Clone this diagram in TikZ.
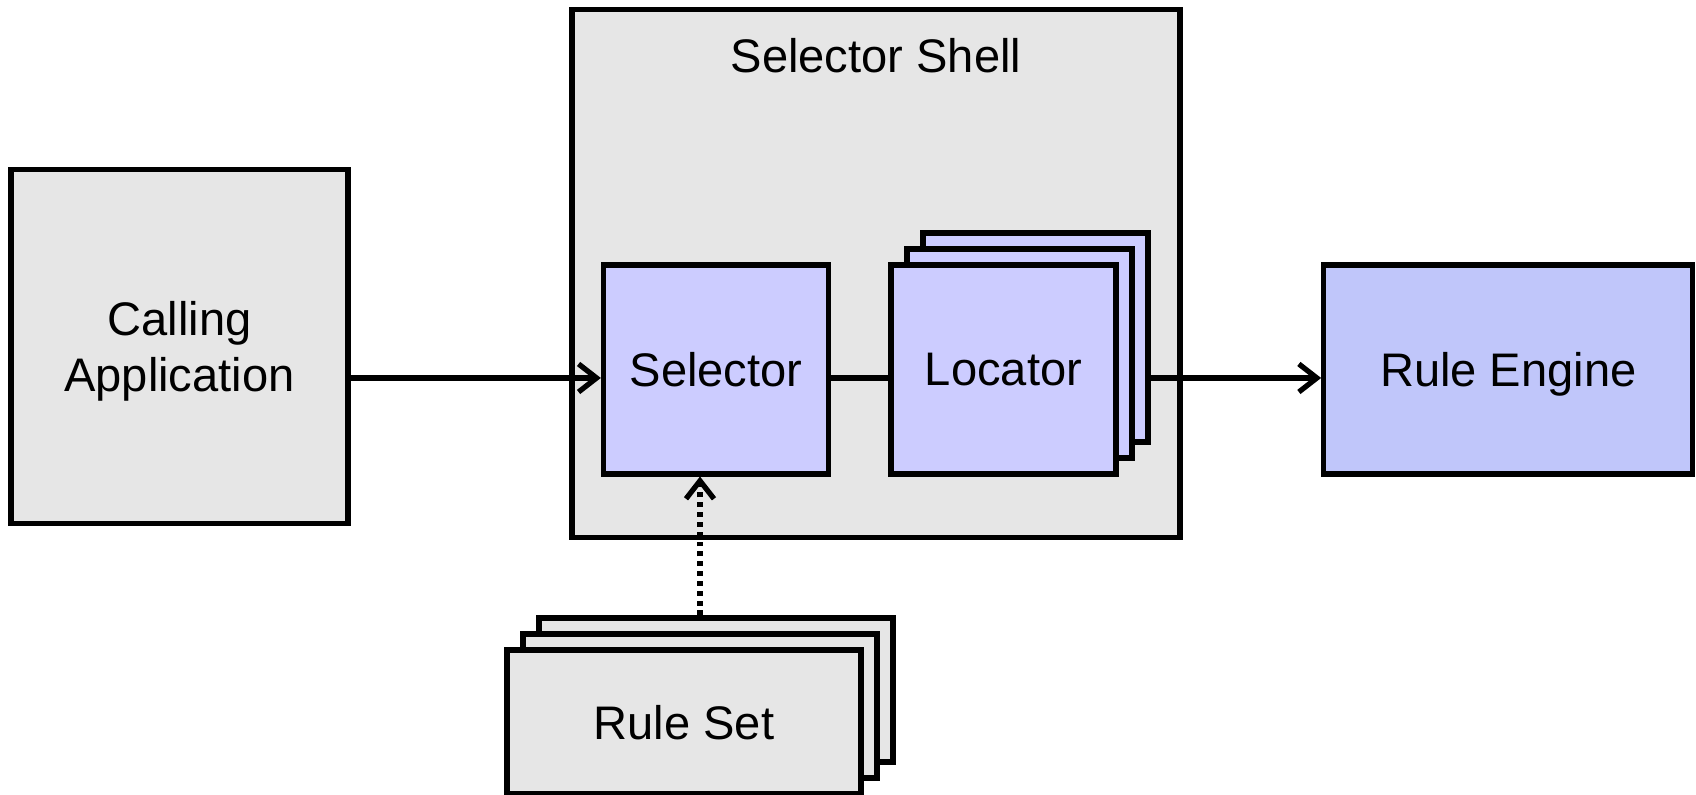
\documentclass[tikz,border=0pt]{standalone}
\usepackage{fontspec}
\setmainfont{Liberation Sans}
\usepackage{tikz}
\usetikzlibrary{arrows.meta,positioning}
\usepackage{xcolor}
\definecolor{paper}{HTML}{E6E6E6}
\definecolor{lilac}{HTML}{CCCCFF}
\definecolor{engine}{HTML}{C0C6FA}
\tikzset{graybox/.style={draw=black,fill=paper,line width=1.5pt,inner sep=0pt,text depth=0pt,align=center,font=\fontsize{13.4}{16}\selectfont}, lilacbox/.style={graybox,fill=lilac,minimum width=2.25cm,minimum height=2.09cm},rulebox/.style={graybox,minimum width=3.54cm,minimum height=1.44cm},flowline/.style={line width=1.5pt,black},feedline/.style={line width=1.5pt,black,dash pattern=on 1.4pt off 1.4pt}}

\begin{document}
\begin{tikzpicture}[>={Straight Barb[length=1.8mm,width=2.8mm]}]
\useasboundingbox (0,0) rectangle (16.96,7.95);
\coordinate (flow) at (0,4.17);
\coordinate (feed) at (7.0,0);
\node[graybox,minimum width=3.37cm,minimum height=3.54cm] (app) at (1.795,4.483) {Calling\\Application};
\node[graybox,minimum width=6.08cm,minimum height=5.28cm] (shell) at (8.76,5.213) {};
\node[graybox,anchor=north,draw=none,fill=none] (shelltitle) at ([yshift=-0.29cm]shell.north) {Selector Shell};
\node[lilacbox] (sel) at (7.16,4.256) {Selector};
\node[lilacbox] (loc3) at (10.355,4.576) {};
\node[lilacbox] (loc2) at (10.195,4.416) {};
\node[lilacbox] (loc) at (10.035,4.256) {Locator};
\node[lilacbox,fill=engine,minimum width=3.69cm] (eng) at (15.083,4.256) {Rule Engine};
\node[rulebox] (rs3) at (7.16,1.05) {};
\node[rulebox] (rs2) at (7.0,0.89) {};
\node[rulebox] (rs) at (6.84,0.73) {Rule Set};
\draw[flowline,->] (app.east |- flow) -- (sel.west |- flow);
\draw[flowline] (sel.east |- flow) -- (loc.west |- flow);
\draw[flowline,->] (loc3.east |- flow) -- (eng.west |- flow);
\draw[feedline,->] (rs3.north -| feed) -- (sel.south -| feed);
\end{tikzpicture}
\end{document}
